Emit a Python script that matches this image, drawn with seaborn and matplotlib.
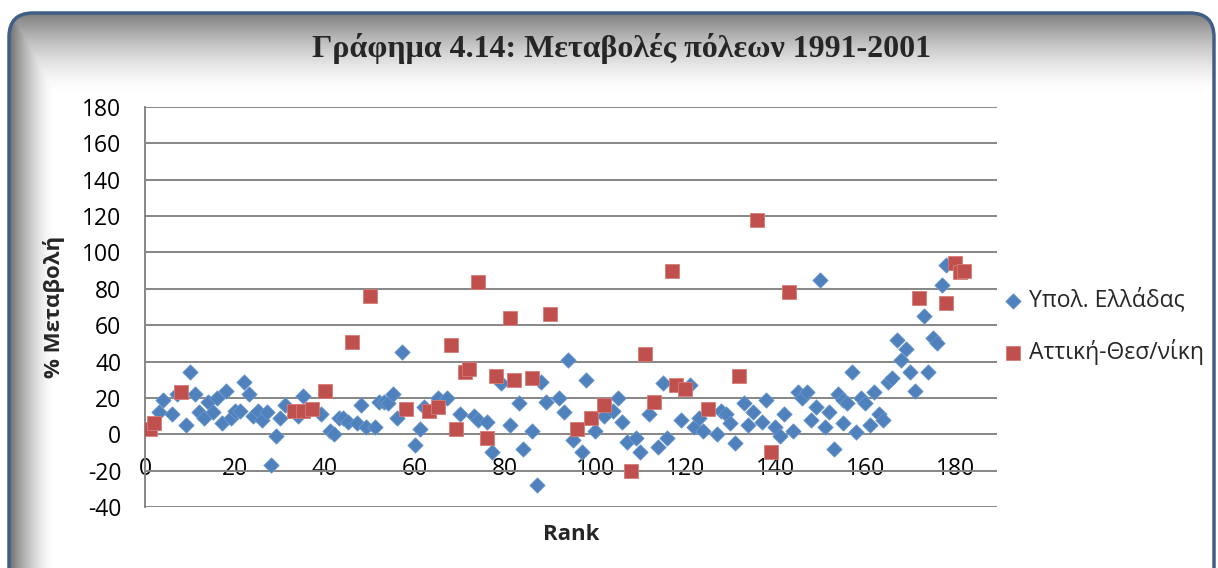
import numpy as np
import pandas as pd
import matplotlib
matplotlib.use("Agg")
import matplotlib.pyplot as plt
import seaborn as sns
from matplotlib.patches import FancyBboxPatch

TITLE = "Γράφημα 4.14: Μεταβολές πόλεων 1991-2001"
SERIES_REST = "Υπολ. Ελλάδας"
SERIES_METRO = "Αττική-Θεσ/νίκη"

# rest of Greece (blue diamonds): rank, % change
rest_rank = [3, 4, 6, 7, 9, 10, 11, 12, 13, 14, 15, 16, 17, 18, 19, 20, 21, 22, 23, 24,
             25, 26, 27, 28, 29, 30, 31, 34, 35, 39, 41, 42, 43, 44, 45, 47, 48, 49, 51, 52,
             53, 54, 55, 56, 57, 60, 61, 62, 65, 67, 70, 73, 74, 76, 77, 79, 81, 83, 84, 86,
             87, 88, 89, 92, 93, 94, 95, 97, 98, 100, 102, 104, 105, 106, 107, 109, 110, 112, 114, 115,
             116, 119, 121, 122, 123, 124, 127, 128, 129, 130, 131, 133, 134, 135, 137, 138, 140, 141, 142, 144,
             145, 146, 147, 148, 149, 150, 151, 152, 153, 154, 155, 155, 156, 157, 158, 159, 160, 161, 162, 163, 164,
             165, 166, 167, 168, 169, 170, 171, 173, 174, 175, 176, 177, 178]
rest_change = [12, 19, 11, 22, 5, 34, 22, 12, 9, 18, 12, 20, 6, 24, 9, 13, 13, 29, 22, 10,
               13, 8, 12, -17, -1, 9, 16, 10, 21, 11, 2, 0, 9, 9, 7, 6, 16, 4, 4, 18,
               18, 17, 22, 9, 45, -6, 3, 15, 20, 20, 11, 10, 8, 7, -10, 28, 5, 17, -8, 2,
               -28, 29, 18, 20, 12, 41, -3, -10, 30, 2, 10, 13, 20, 7, -4, -2, -10, 11, -7, 28,
               -2, 8, 27, 4, 9, 2, 0, 13, 11, 6, -5, 17, 5, 12, 7, 19, 4, -1, 11, 2,
               23, 20, 23, 8, 15, 85, 4, 12, -8, 22, 6, 19, 17, 34, 1, 20, 17, 5, 23, 11, 8,
               29, 31, 52, 41, 47, 34, 24, 65, 34, 53, 50, 82, 93]

# Attica / Thessaloniki (red squares): rank, % change
metro_rank = [1, 2, 8, 33, 35, 37, 40, 46, 50, 58, 63, 65, 68, 69, 71, 72, 74, 76, 78, 81,
              82, 86, 90, 96, 99, 102, 108, 111, 113, 117, 118, 120, 125, 132, 136, 139, 143, 172, 178, 180,
              181, 182]
metro_change = [3, 6, 23, 13, 13, 14, 24, 51, 76, 14, 13, 15, 49, 3, 34, 36, 84, -2, 32, 64,
                30, 31, 66, 3, 9, 16, -20, 44, 18, 90, 27, 25, 14, 32, 118, -10, 78, 75, 72, 94,
                89, 90]

x_ticks = list(range(0, 181, 20))
y_ticks = list(range(-40, 181, 20))

df_rest = pd.DataFrame({"Rank": rest_rank, "Change": rest_change})
df_metro = pd.DataFrame({"Rank": metro_rank, "Change": metro_change})

sns.set_theme(style="white")
plt.rcParams["font.family"] = ["Open Sans", "DejaVu Sans"]
plt.rcParams["axes.unicode_minus"] = False

W, H = 1218, 568
fig = plt.figure(figsize=(W / 100, H / 100), dpi=100)

# rounded frame with grey shading on top and left, like the Excel chart area
bg = fig.add_axes([0, 0, 1, 1])
bg.set_xlim(0, W)
bg.set_ylim(H, 0)
bg.axis("off")
frame = FancyBboxPatch((9, 13), 1205, 600, boxstyle="round,pad=0,rounding_size=24",
                       fc="none", ec="#3f5f86", lw=2.5, zorder=3)
bg.add_patch(frame)
yy, xx = np.mgrid[0:H, 0:W]
top = np.clip(1 - (yy - 14) / 80.0, 0, 1) ** 1.6
left = np.clip(1 - (xx - 10) / 45.0, 0, 1) ** 1.6
shade = np.maximum(top * 0.5, left * 0.55)
im = bg.imshow(1 - shade, cmap="gray", vmin=0, vmax=1, extent=(0, W, H, 0), aspect="auto")
im.set_clip_path(frame)

fig.text(621 / W, 1 - 48 / H, TITLE, ha="center", va="center", fontsize=23,
         fontweight="bold", family=["Liberation Serif", "DejaVu Serif"])

ax = fig.add_axes([145 / W, 1 - 507 / H, 852 / W, 400 / H])
ax.set_facecolor("white")

sns.scatterplot(data=df_rest, x="Rank", y="Change", marker="D", s=62, color="#4f81bd",
                edgecolor="#6f9ad0", linewidth=0.5, label=SERIES_REST, ax=ax, zorder=3)
sns.scatterplot(data=df_metro, x="Rank", y="Change", marker="s", s=115, color="#c0504d",
                edgecolor="#d67c79", linewidth=0.6, label=SERIES_METRO, ax=ax, zorder=4)

ax.set_xlim(0, 189.3)
ax.set_ylim(-40, 180)
ax.set_xticks(x_ticks)
ax.set_yticks(y_ticks)
ax.yaxis.grid(True, color="#868686", lw=1.4)
ax.xaxis.grid(False)
for side in ["top", "right", "bottom"]:
    ax.spines[side].set_visible(False)
ax.spines["left"].set_color("#868686")
ax.spines["left"].set_linewidth(1.4)

ax.tick_params(axis="y", labelsize=16.5, pad=17, length=0, colors="black")
ax.tick_params(axis="x", labelsize=16.5, pad=-36, length=0, colors="black")
for lbl in ax.get_xticklabels():
    lbl.set_bbox(dict(fc="white", ec="none", pad=0.5))

ax.set_xlabel("Rank", fontsize=16, fontweight="bold", labelpad=12)
ax.set_ylabel("% Μεταβολή", fontsize=16, fontweight="bold", labelpad=12)

ax.legend(loc="upper left", bbox_to_anchor=(990 / W, 1 - 279 / H),
          bbox_transform=fig.transFigure, frameon=False, fontsize=16.5,
          labelspacing=1.15, handlelength=1.2, handletextpad=0.1, borderaxespad=0)

fig.savefig("out.png", dpi=100)
